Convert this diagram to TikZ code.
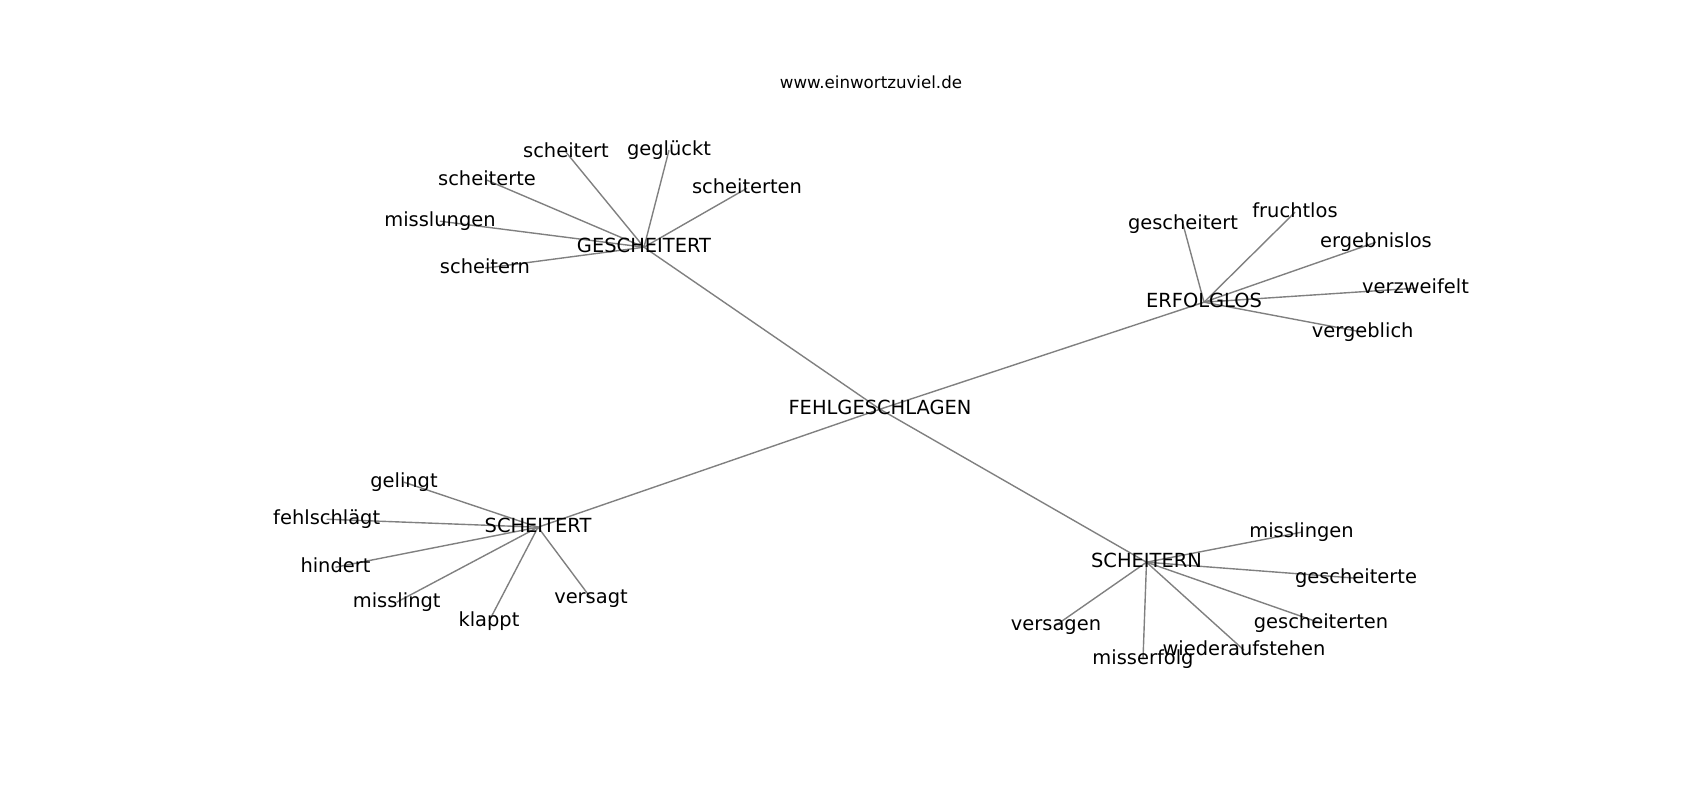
\documentclass[tikz,border=0pt]{standalone}
\usepackage{fontspec}
\setmainfont{DejaVu Sans}
\usetikzlibrary{backgrounds}
\tikzset{
  word/.style={inner sep=0pt, text height=0.73em, text depth=0pt, font=\fontsize{14pt}{17pt}\selectfont, text=black},
  edge/.style={draw=gray, line width=1pt},
  title/.style={inner sep=0pt, anchor=base, font=\fontsize{12pt}{14pt}\selectfont}
}
\begin{document}
\begin{tikzpicture}[x=0.72pt, y=-0.72pt]
\useasboundingbox (0,-2.2) rectangle (1700,797.8);
\node[title] (t) at (871,85.8) {www.einwortzuviel.de};
% hubs
\node[word] (F) at (880,407) {FEHLGESCHLAGEN};
\node[word] (G) at (644,245) {GESCHEITERT};
\node[word] (E) at (1204,300) {ERFOLGLOS};
\node[word] (S) at (538,525) {SCHEITERT};
\node[word] (N) at (1146.5,560) {SCHEITERN};
% GESCHEITERT leaves
\node[word] (g1) at (566,150) {scheitert};
\node[word] (g2) at (669,148) {geglückt};
\node[word] (g3) at (747,186) {scheiterten};
\node[word] (g4) at (487,178) {scheiterte};
\node[word] (g5) at (440,219) {misslungen};
\node[word] (g6) at (485,266) {scheitern};
% ERFOLGLOS leaves
\node[word] (e1) at (1183,222) {gescheitert};
\node[word] (e2) at (1295,210) {fruchtlos};
\node[word] (e3) at (1376,240) {ergebnislos};
\node[word] (e4) at (1415.5,286) {verzweifelt};
\node[word] (e5) at (1362.7,330) {vergeblich};
% SCHEITERT leaves
\node[word] (s1) at (404,480) {gelingt};
\node[word] (s2) at (326.7,517) {fehlschlägt};
\node[word] (s3) at (335.5,565) {hindert};
\node[word] (s4) at (396.7,600) {misslingt};
\node[word] (s5) at (489,619) {klappt};
\node[word] (s6) at (591,596) {versagt};
% SCHEITERN leaves
\node[word] (n1) at (1301.5,530) {misslingen};
\node[word] (n2) at (1356,576) {gescheiterte};
\node[word] (n3) at (1321,621) {gescheiterten};
\node[word] (n4) at (1244,648) {wiederaufstehen};
\node[word] (n5) at (1143,657) {misserfolg};
\node[word] (n6) at (1056,623) {versagen};
\begin{scope}[on background layer]
\fill[white] (0,-2.2) rectangle (1700,797.8);
\path[edge] (F.center) -- (G.center) (F.center) -- (E.center) (F.center) -- (S.center) (F.center) -- (N.center);
\foreach \l in {g1,g2,g3,g4,g5,g6} \path[edge] (G.center) -- (\l.center);
\foreach \l in {e1,e2,e3,e4,e5} \path[edge] (E.center) -- (\l.center);
\foreach \l in {s1,s2,s3,s4,s5,s6} \path[edge] (S.center) -- (\l.center);
\foreach \l in {n1,n2,n3,n4,n5,n6} \path[edge] (N.center) -- (\l.center);
\end{scope}
\end{tikzpicture}
\end{document}
